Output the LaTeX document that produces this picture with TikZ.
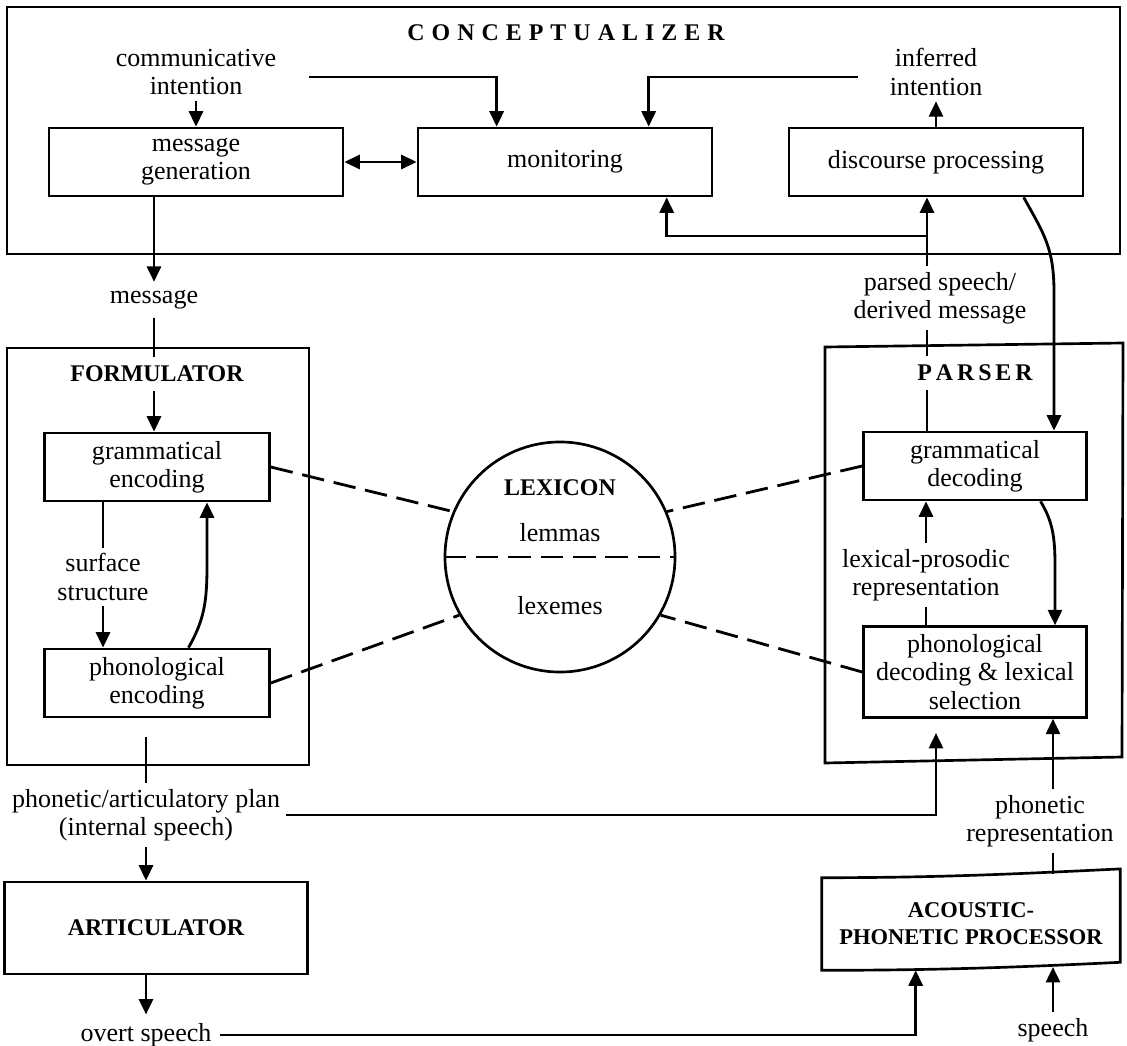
\documentclass[tikz,border=0pt]{standalone}
\usepackage{fontspec}
\setmainfont{Liberation Serif}
\usetikzlibrary{arrows.meta}

\newcommand{\hdfont}{\fontsize{17}{20}\selectfont\bfseries}
\newcommand{\ls}[1][5pt]{\hspace{#1}}

\begin{document}
\begin{tikzpicture}[x=0.025cm, y=-0.025cm, font=\fontsize{18.5}{20}\selectfont,
	box/.style={draw, rectangle, line width=1.9pt, align=center, inner sep=2pt},
	lbl/.style={align=center, inner sep=4pt},
	frame/.style={line width=1.9pt},
	lnk/.style={line width=2pt},
	arr/.style={lnk, -{Triangle[length=11pt,width=10pt]}},
	darr/.style={lnk, {Triangle[length=11pt,width=10pt]}-{Triangle[length=11pt,width=10pt]}},
	lexlink/.style={lnk, dash pattern=on 16pt off 7pt}]

	\useasboundingbox (0,0) rectangle (1127,1046);

	%Conceptualizer
	\draw[frame] (7,7) rectangle (1120,254);
	\node (ctitle) at (566,33) [font=\hdfont]{C\ls O\ls N\ls C\ls E\ls P\ls T\ls U\ls A\ls L\ls I\ls Z\ls E\ls R};
	\node (comm) at (196,72) [lbl]{communicative\\intention};
	\node (infint) at (936,72) [lbl]{inferred\\intention};
	\node (mgen) at (196,162) [box, minimum width=7.35cm, minimum height=1.7cm]{message\\generation};
	\node (mon) at (565,162) [box, minimum width=7.35cm, minimum height=1.7cm]{monitoring};
	\node (dproc) at (936,162) [box, minimum width=7.35cm, minimum height=1.7cm]{discourse processing};

	%Formulator
	\draw[frame] (7,348) rectangle (309,765);
	\node (msg) at (154,300) [lbl, inner sep=6pt]{message};
	\node (ftitle) at (157,374) [font=\hdfont, inner sep=6pt]{FORMULATOR};
	\node (genc) at (157,467) [box, minimum width=5.62cm, minimum height=1.7cm]{grammatical\\encoding};
	\node (surf) at (103,577) [lbl]{surface\\structure};
	\node (penc) at (157,683) [box, minimum width=5.62cm, minimum height=1.7cm]{phonological\\encoding};

	%Articulator
	\node (plan) at (146,815) [lbl]{phonetic/articulatory plan\\(internal speech)};
	\node (artic) at (156,928) [box, font=\hdfont, minimum width=7.57cm, minimum height=2.3cm]{ARTICULATOR};
	\node (overt) at (146,1035) [lbl, inner sep=6pt]{overt speech};

	%Lexicon
	\node (lex) at (560,557) [draw, circle, line width=1.9pt, minimum size=5.75cm, inner sep=0pt]{};
	\node (lextitle) at (560,488) [font=\hdfont]{LEXICON};
	\node (lemmas) at (560,533) {lemmas};
	\node (lexemes) at (560,606) {lexemes};

	%Parser
	\draw[frame] (825,347) -- (1123,343) -- (1122,757) -- (825,763) -- cycle;
	\node (parsed) at (940,298) [lbl]{parsed speech/\\derived message};
	\node (ptitle) at (975,373) [font=\hdfont, inner sep=6pt]{P\ls[2.8pt]A\ls[2.8pt]R\ls[2.8pt]S\ls[2.8pt]E\ls[2.8pt]R};
	\node (gdec) at (975,466) [box, minimum width=5.57cm, minimum height=1.7cm]{grammatical\\decoding};
	\node (lexrep) at (926,575) [lbl]{lexical-prosodic\\representation};
	\node (pdec) at (975,672) [box, minimum width=5.57cm, minimum height=2.27cm]{phonological\\decoding \& lexical\\selection};

	%Acoustic-phonetic processor
	\node (phrep) at (1040,821) [lbl]{phonetic\\representation};
	\node (ap) at (971,924) [font={\fontsize{16}{19}\selectfont\bfseries}, align=center, minimum width=7.45cm, minimum height=2.3cm]{ACOUSTIC-\\PHONETIC PROCESSOR};
	\draw[frame] (ap.north west) .. controls +(3cm,0) and +(-2.5cm,-0.12cm) .. ([yshift=0.22cm]ap.north east) -- ([yshift=0.2cm]ap.south east) .. controls +(-2.5cm,-0.12cm) and +(3cm,0) .. (ap.south west) -- cycle;
	\node (speech) at (1053,1030) [lbl]{speech};

	%Free ends and bends
	\coordinate (monin) at (309,77);
	\coordinate (infin) at (858,77);
	\coordinate (fork) at (927,236);
	\coordinate (rbend) at (1054,292);
	\coordinate (lbend) at (207,565);
	\coordinate (rbend2) at (1055,565);
	\coordinate (planin) at (146,737);
	\coordinate (pdecin) at (936,733);
	\coordinate (rx) at (1053,0);
	\coordinate (apout) at (1053,874);
	\coordinate (apin) at (1053,967);

	%Links
	\draw[arr] (comm.south) -- (mgen.north);
	\draw[darr] (mgen.east) -- (mon.west);
	\draw[arr] (monin) -| ([xshift=2cm]mon.north west);
	\draw[arr] (infin) -| ([xshift=5.8cm]mon.north west);
	\draw[arr] (dproc.north) -- (infint.south);
	\draw[arr] (parsed.north -| fork) -- (dproc.south -| fork);
	\draw[arr] (fork) -| ([xshift=6.25cm]mon.south west);
	\draw[arr] ([xshift=5.9cm]dproc.south west) .. controls +(0.5cm,-0.9cm) and +(0,1.1cm) .. (rbend) -- (gdec.north -| rbend);

	\draw[arr] (mgen.south -| msg) -- (msg.north);
	\draw[lnk] (msg.south) -- (ftitle.north -| msg);
	\draw[arr] (ftitle.south -| msg) -- (genc.north -| msg);
	\draw[lnk] (genc.south -| surf) -- (surf.north);
	\draw[arr] (surf.south) -- (penc.north -| surf);
	\draw[arr] ([xshift=3.63cm]penc.north west) .. controls +(0.4cm,0.7cm) and +(0,-0.9cm) .. (lbend) -- (genc.south -| lbend);

	\draw[lnk] (planin) -- (plan.north);
	\draw[arr] (plan.south) -- (artic.north -| plan);
	\draw[arr] (artic.south -| plan) -- (overt.north);
	\draw[arr] (plan.east) -| (pdecin);
	\draw[arr] (overt.east) -| ([xshift=2.35cm]ap.south west);

	\draw[lnk] (gdec.north -| fork) -- (ptitle.south -| fork);
	\draw[lnk] (ptitle.north -| fork) -- (parsed.south -| fork);
	\draw[arr] (lexrep.north) -- (gdec.south -| lexrep);
	\draw[lnk] (lexrep.south) -- (pdec.north -| lexrep);
	\draw[arr] ([xshift=-1.18cm]gdec.south east) .. controls +(0.3cm,-0.5cm) and +(0,0.7cm) .. (rbend2) -- (pdec.north -| rbend2);
	\draw[arr] (phrep.north -| rx) -- (pdec.south -| rx);
	\draw[lnk] (apout) -- (phrep.south -| rx);
	\draw[arr] (speech.north -| rx) -- (apin);

	%Lexicon links
	\draw[lexlink] (lex.west) -- (lex.east);
	\draw[lexlink] (genc.east) -- (lex.157);
	\draw[lexlink] (penc.east) -- (lex.210);
	\draw[lexlink] (gdec.west) -- (lex.23);
	\draw[lexlink] (pdec.west) -- (lex.330);

\end{tikzpicture}
\end{document}
